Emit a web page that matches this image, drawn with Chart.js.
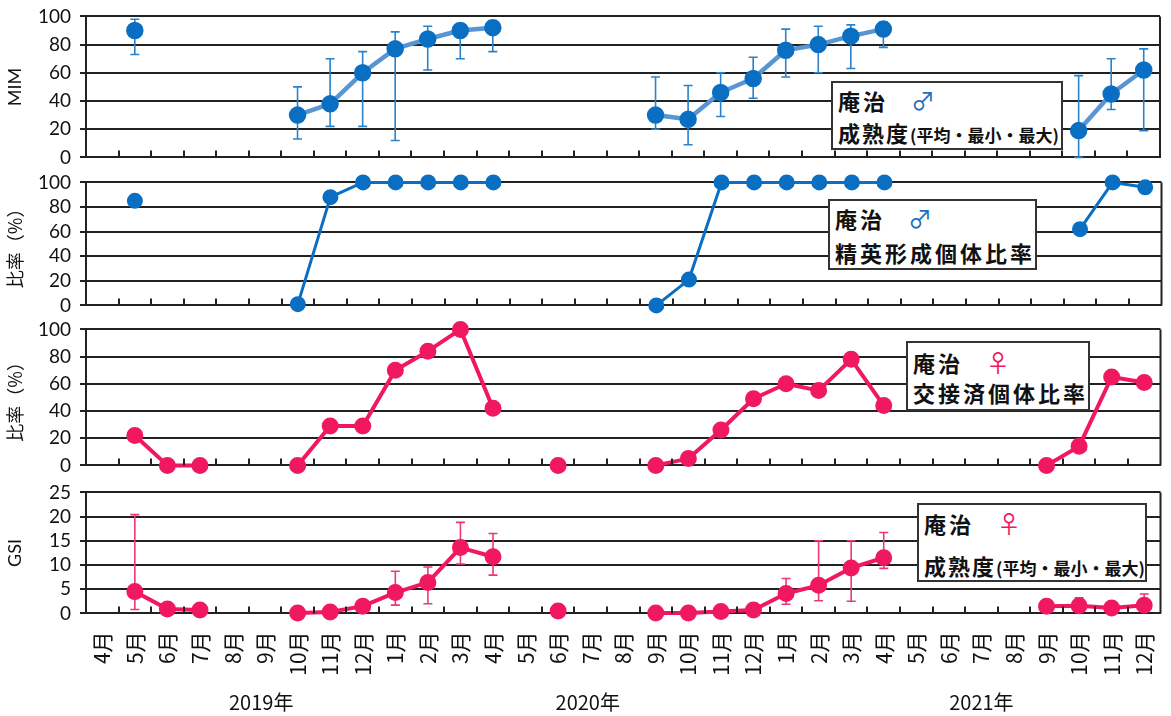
<!DOCTYPE html>
<html><head><meta charset="utf-8">
<script src="https://cdn.jsdelivr.net/npm/chart.js@4.4.1/dist/chart.umd.min.js"></script>
<style>
body{margin:0;background:#fff;width:1171px;height:716px;position:relative;overflow:hidden;font-family:"Noto Sans CJK JP",sans-serif;}
canvas{position:absolute;left:0;}
.box{position:absolute;background:#fff;border:2px solid #333;box-sizing:border-box;font-weight:bold;color:#111;}
.box .l{position:absolute;left:5px;white-space:nowrap;font-size:22px;letter-spacing:3px;line-height:1;}
.box .sm{font-size:17px;letter-spacing:0;}
.box .sym{position:absolute;left:78px;font-size:24px;line-height:1;font-weight:normal;}
</style></head>
<body>
<canvas id="c1" width="1171" height="190" style="top:0;width:1171px;height:190px"></canvas>
<canvas id="c2" width="1171" height="170" style="top:165px;width:1171px;height:170px"></canvas>
<canvas id="c3" width="1171" height="180" style="top:312px;width:1171px;height:180px"></canvas>
<canvas id="c4" width="1171" height="250" style="top:475px;width:1171px;height:250px"></canvas>

<div class="box" style="left:831px;top:81px;width:232px;height:69px;">
  <span class="l" style="top:6px">庵治</span><span class="sym" style="top:5px;color:#1a6fc0">♂</span>
  <span class="l" style="top:38px;letter-spacing:2px">成熟度<span class="sm">(平均・最小・最大)</span></span>
</div>
<div class="box" style="left:828px;top:199px;width:209px;height:71px;">
  <span class="l" style="top:6px">庵治</span><span class="sym" style="top:5px;color:#1a6fc0">♂</span>
  <span class="l" style="top:40px">精英形成個体比率</span>
</div>
<div class="box" style="left:906px;top:341px;width:184px;height:70px;">
  <span class="l" style="top:8px">庵治</span><span class="sym" style="top:7px;color:#f0185e">♀</span>
  <span class="l" style="top:38px">交接済個体比率</span>
</div>
<div class="box" style="left:917px;top:503px;width:230px;height:79px;">
  <span class="l" style="top:7px">庵治</span><span class="sym" style="top:6px;color:#f0185e">♀</span>
  <span class="l" style="top:49px;letter-spacing:2px">成熟度<span class="sm">(平均・最小・最大)</span></span>
</div>

<script>
// ---- data ----
const months = ['4月','5月','6月','7月','8月','9月','10月','11月','12月',
  '1月','2月','3月','4月','5月','6月','7月','8月','9月','10月','11月','12月',
  '1月','2月','3月','4月','5月','6月','7月','8月','9月','10月','11月','12月'];
const years = ['2019年','2020年','2021年'];

const mimMean = [null,90,null,null,null,null,30,38,60,77,84,90,92,null,null,null,null,30,27,46,56,76,80,86,91,null,null,null,null,null,19,45,62];
const mimMin  = [null,73,null,null,null,null,13,22,22,12,62,70,75,null,null,null,null,20,9,29,42,57,60,63,78,null,null,null,null,null,0,34,19];
const mimMax  = [null,98,null,null,null,null,50,70,75,89,93,95,97,null,null,null,null,57,51,60,71,91,93,94,96,null,null,null,null,null,58,70,77];

const spermRate = [null,85,null,null,null,null,1,88,100,100,100,100,100,null,null,null,null,0,21,100,100,100,100,100,100,null,null,null,null,null,62,100,96];

const copulRate = [null,22,0,0,null,null,0,29,29,70,84,100,42,null,0,null,null,0,5,26,49,60,55,78,44,null,null,null,null,0,14,65,61];

const gsiMean = [null,4.5,0.9,0.7,null,null,0.1,0.3,1.5,4.3,6.4,13.6,11.7,null,0.5,null,null,0.1,0.1,0.4,0.7,4.1,5.8,9.4,11.5,null,null,null,null,1.5,1.6,1.1,1.7];
const gsiMin  = [null,0.8,null,null,null,null,null,null,null,1.7,2.0,10.2,7.9,null,null,null,null,null,null,null,null,1.9,2.6,2.5,9.3,null,null,null,null,null,0.7,null,0.7];
const gsiMax  = [null,20.4,null,null,null,null,null,null,null,8.7,9.6,18.8,16.5,null,null,null,null,null,null,null,null,7.2,15.0,15.0,16.7,null,null,null,null,null,3.2,null,4.0];

// ---- styles ----
const BLUE = '#0a6fc2', BLUE_LINE = '#5796d3', BLUE_ERR = '#2a82cc';
const PINK = '#f0185e', PINK_ERR = '#ea3a72';
const GRID = '#222';

const frameAndTicks = {
  id: 'frameAndTicks',
  afterDraw(chart) {
    const {ctx, chartArea: a, scales: {x}} = chart;
    ctx.save();
    ctx.strokeStyle = GRID;
    ctx.lineWidth = 2;
    ctx.beginPath();
    ctx.moveTo(a.right, a.top); ctx.lineTo(a.right, a.bottom);
    for (let i = 1; i < months.length; i++) {
      const px = Math.round((x.getPixelForValue(i - 1) + x.getPixelForValue(i)) / 2);
      ctx.moveTo(px, a.bottom); ctx.lineTo(px, a.bottom - 7);
    }
    ctx.stroke();
    ctx.restore();
  },
  beforeDatasetsDraw(chart) {
    const e = chart.options.plugins.frameAndTicks;
    if (!e || !e.min) return;
    const {ctx, scales: {x, y}} = chart;
    ctx.save();
    ctx.strokeStyle = e.color;
    ctx.lineWidth = 1.6;
    ctx.beginPath();
    for (let i = 0; i < e.min.length; i++) {
      if (e.min[i] == null || e.max[i] == null) continue;
      const px = x.getPixelForValue(i);
      const y1 = y.getPixelForValue(e.min[i]), y2 = y.getPixelForValue(e.max[i]);
      ctx.moveTo(px, y1); ctx.lineTo(px, y2);
      ctx.moveTo(px - 4.5, y1); ctx.lineTo(px + 4.5, y1);
      ctx.moveTo(px - 4.5, y2); ctx.lineTo(px + 4.5, y2);
    }
    ctx.stroke();
    ctx.restore();
  }
};

const yearLabels = {
  id: 'yearLabels',
  afterDraw(chart) {
    const yl = chart.options.plugins.yearLabels;
    if (!yl || !yl.show) return;
    const {ctx, chartArea: a, scales: {x}} = chart;
    const pos = [4.88, 14.91, 27.0];
    ctx.save();
    ctx.fillStyle = '#111';
    ctx.font = '20px "Noto Sans CJK JP"';
    ctx.textAlign = 'center';
    ctx.textBaseline = 'middle';
    years.forEach((t, k) => ctx.fillText(t, x.getPixelForValue(pos[k]), a.bottom + 89));
    ctx.restore();
  }
};

function makeChart(id, datasets, cfg) {
  const canvas = document.getElementById(id);
  const chart = new Chart(canvas, {
    type: 'line',
    data: { labels: months, datasets },
    plugins: [frameAndTicks, yearLabels],
    options: {
      responsive: false, animation: false, devicePixelRatio: 1,
      layout: { padding: { top: 14, right: 1, left: 0, bottom: 0 } },
      plugins: {
        legend: { display: false }, tooltip: { enabled: false },
        frameAndTicks: cfg.err || {},
        yearLabels: { show: !!cfg.showX }
      },
      scales: {
        x: {
          type: 'category', offset: true,
          grid: { display: false, drawTicks: false, tickLength: 0 },
          border: { display: true, color: GRID, width: 2 },
          ticks: { display: !!cfg.showX, minRotation: 90, maxRotation: 90, autoSkip: false, padding: 18,
                   color: '#111', font: { family: '"Noto Sans CJK JP"', size: 21 } },
          afterFit: s => { s.height = cfg.xHeight; s.paddingLeft = 0; s.paddingRight = 0; }
        },
        y: {
          min: 0, max: cfg.max,
          ticks: { stepSize: cfg.max / 5, autoSkip: false, padding: 9, color: '#111', font: { family: 'Lato', size: 19 } },
          grid: { color: GRID, lineWidth: 2, tickLength: 6 },
          border: { color: GRID, width: 2 },
          title: { display: true, text: cfg.title, color: '#111', padding: { top: 4, bottom: 0 },
                   font: { family: cfg.titleFont, size: 18 } },
          afterFit: s => { s.width = 86; }
        }
      }
    }
  });
  // align the plot area with the target band
  for (let k = 0; k < 3; k++) {
    const a = chart.chartArea;
    const need = cfg.bottom - cfg.top, have = a.bottom - a.top;
    if (Math.abs(need - have) < 0.5) break;
    cfg.xHeight -= (need - have);
    chart.update();
  }
  canvas.style.top = (cfg.top - chart.chartArea.top) + 'px';
  return chart;
}

const common = { spanGaps: false, clip: false, pointRadius: 6.5, pointHoverRadius: 6.5, borderJoinStyle: 'round' };

makeChart('c1', [{ ...common, data: mimMean, borderColor: BLUE_LINE, borderWidth: 4.5,
  pointBackgroundColor: BLUE, pointBorderColor: BLUE }],
  { top: 16, bottom: 157, xHeight: 30, max: 100, title: 'MIM', titleFont: 'Lato',
    err: { min: mimMin, max: mimMax, color: BLUE_ERR } });

makeChart('c2', [{ ...common, data: spermRate, borderColor: BLUE, borderWidth: 3,
  pointBackgroundColor: BLUE, pointBorderColor: BLUE }],
  { top: 182, bottom: 305, xHeight: 30, max: 100, title: '比率（%）', titleFont: '"Noto Sans CJK JP"' });

makeChart('c3', [{ ...common, data: copulRate, borderColor: PINK, borderWidth: 4,
  pointBackgroundColor: PINK, pointBorderColor: PINK }],
  { top: 329, bottom: 465, xHeight: 30, max: 100, title: '比率（%）', titleFont: '"Noto Sans CJK JP"' });

makeChart('c4', [{ ...common, data: gsiMean, borderColor: PINK, borderWidth: 4,
  pointBackgroundColor: PINK, pointBorderColor: PINK }],
  { top: 492, bottom: 613, xHeight: 110, max: 25, title: 'GSI', titleFont: 'Lato', showX: true,
    err: { min: gsiMin, max: gsiMax, color: PINK_ERR } });
</script>
</body></html>
